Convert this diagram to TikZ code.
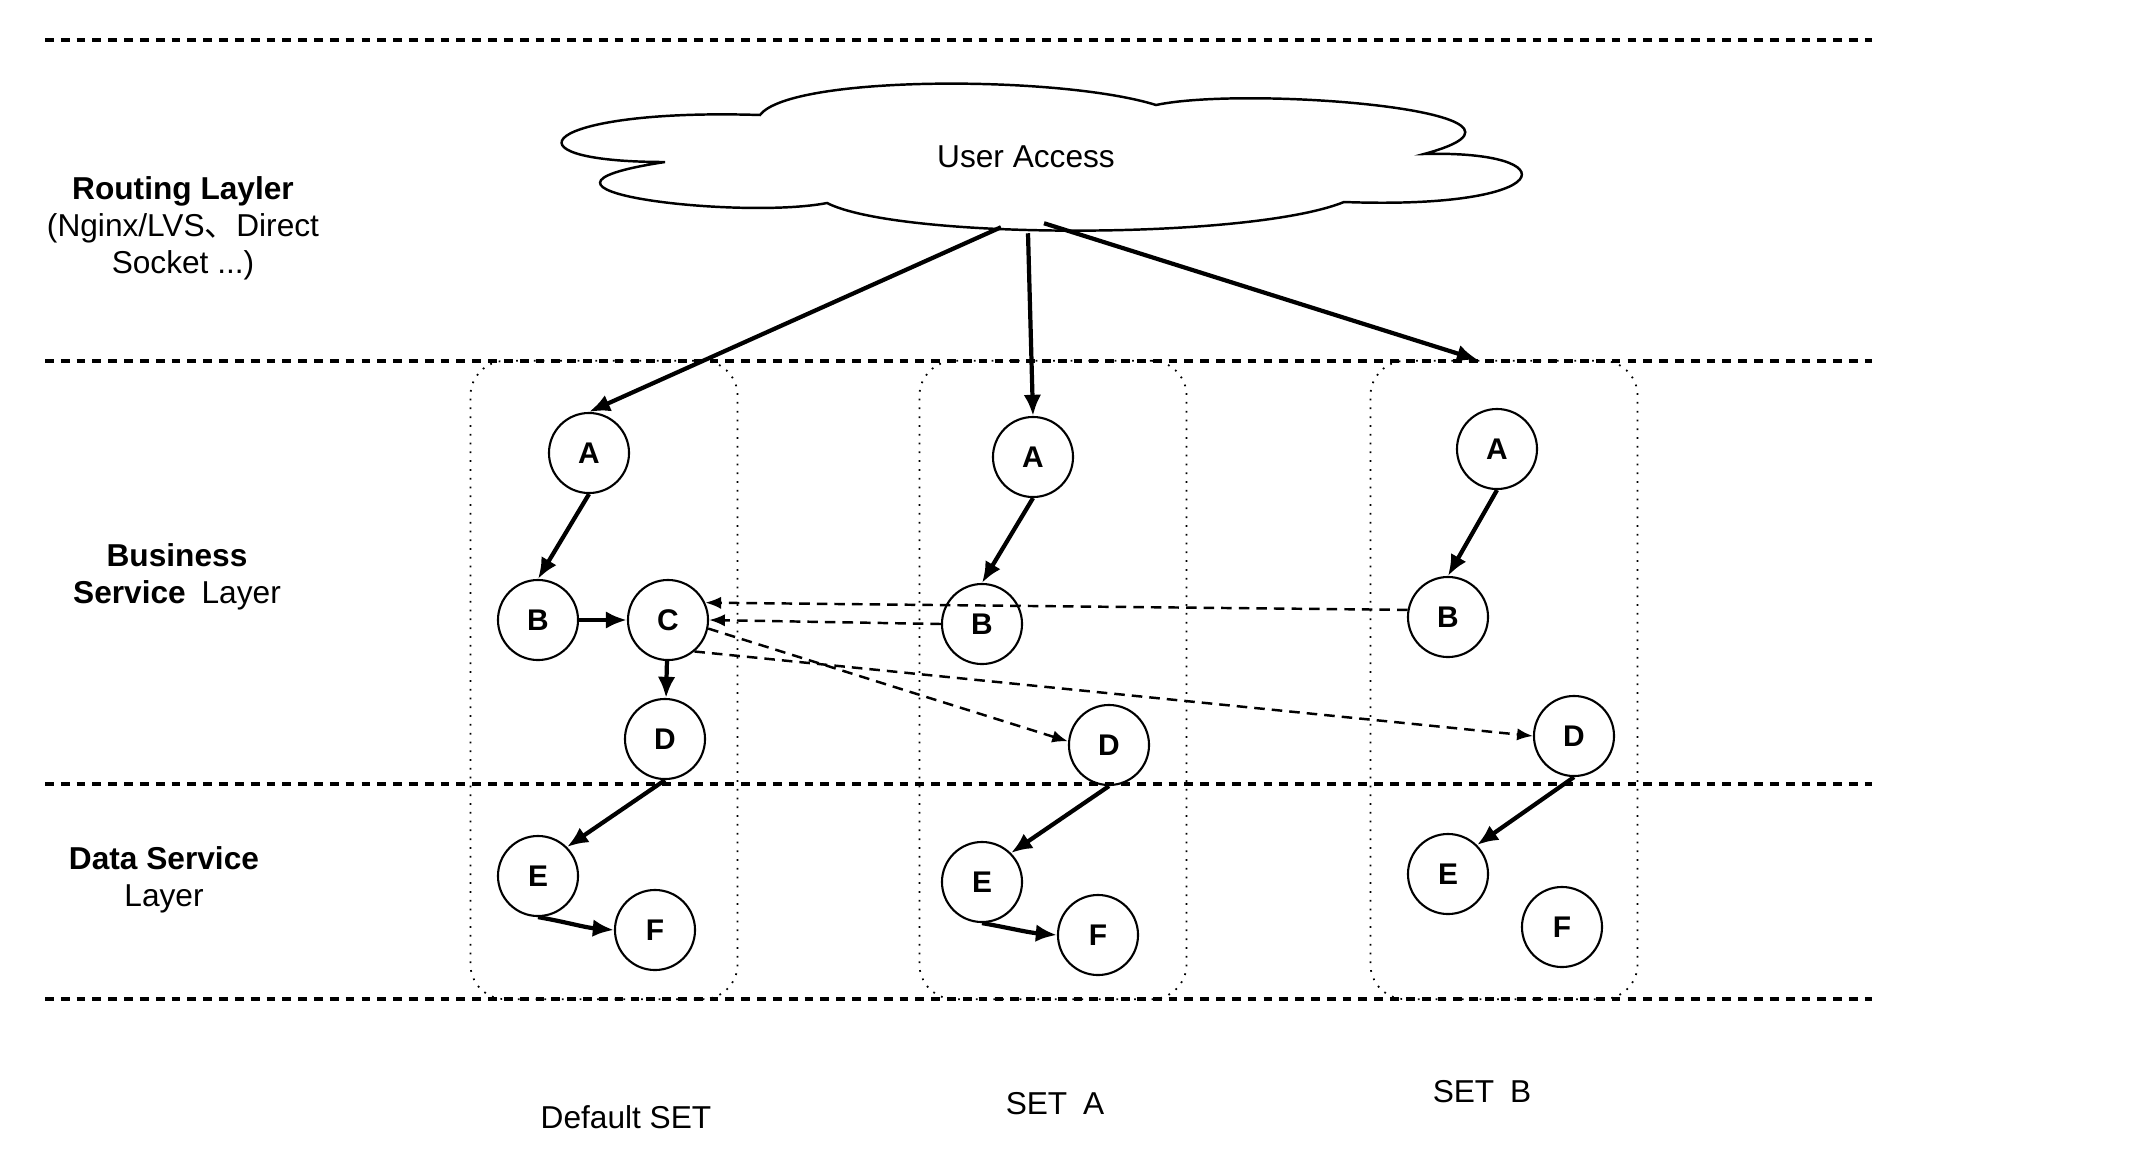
\documentclass[tikz,border=0pt]{standalone}
\usepackage{fontspec}
\setmainfont{Liberation Sans}
\newfontfamily\cjk{Noto Sans CJK SC}
\usepackage{tikz}
\usetikzlibrary{arrows.meta, positioning}

\begin{document}
\begin{tikzpicture}[x=0.01cm,y=-0.01cm,font=\fontsize{9}{10.5}\selectfont]
    \tikzstyle{state}=[shape=circle,draw,line width=0.6pt,minimum size=0.8cm,inner sep=0pt,font=\fontsize{8.5}{10}\selectfont\bfseries]
    \tikzstyle{set}=[draw,dotted,line width=0.5pt,rounded corners=0.35cm,minimum width=2.67cm,minimum height=6.38cm]
    \tikzstyle{layer}=[dash pattern=on 2.5pt off 2pt,line width=0.9pt]
    \tikzstyle{call}=[-{Latex[length=6pt,width=5pt]},line width=1.2pt]
    \tikzstyle{rpc}=[-{Latex[length=4.5pt,width=3.5pt]},dash pattern=on 3pt off 2pt,line width=0.7pt]

    \useasboundingbox (0,0) rectangle (2154,1154);

    % layers
    \draw[layer] (45,40) -- (1872,40);
    \draw[layer] (45,361) -- (1872,361);
    \draw[layer] (45,784) -- (1872,784);
    \draw[layer] (45,999) -- (1872,999);

    \node[align=center] (route) at (183,228) {\textbf{Routing Layler}\\(Nginx/LVS{\cjk 、}Direct\\Socket ...)};
    \node[align=center] (biz) at (177,577) {\textbf{Business}\\\textbf{Service}\enspace Layer};
    \node[align=center] (data) at (164,880) {\textbf{Data Service}\\Layer};

    % cloud
    \draw[line width=0.7pt] (665,162)
        .. controls (495,162) and (540,108) .. (760,115)
        .. controls (790,75) and (1060,75) .. (1156,105)
        .. controls (1250,85) and (1580,112) .. (1424,154)
        .. controls (1570,150) and (1560,210) .. (1344,202)
        .. controls (1250,240) and (900,240) .. (827,203)
        .. controls (740,220) and (480,190) .. cycle;
    \node[minimum width=9.49cm,minimum height=1.35cm,inner sep=0pt] (user) at (1026,157) {User Access};

    % sets
    \node[set] (S0) at (604,680) {};
    \node[set] (S1) at (1053,680) {};
    \node[set] (S2) at (1504,680) {};

    \node[state] (A0) at (589,453) {A};
    \node[state] (B0) at (538,620) {B};
    \node[state] (C0) at (668,620) {C};
    \node[state] (D0) at (665,739) {D};
    \node[state] (E0) at (538,876) {E};
    \node[state] (F0) at (655,930) {F};

    \node[state] (A1) at (1033,457) {A};
    \node[state] (B1) at (982,624) {B};
    \node[state] (D1) at (1109,745) {D};
    \node[state] (E1) at (982,882) {E};
    \node[state] (F1) at (1098,935) {F};

    \node[state] (A2) at (1497,449) {A};
    \node[state] (B2) at (1448,617) {B};
    \node[state] (D2) at (1574,736) {D};
    \node[state] (E2) at (1448,874) {E};
    \node[state] (F2) at (1562,927) {F};

    \node (set0) at (626,1117) {Default SET};
    \node (set1) at (1055,1104) {SET\enspace A};
    \node (set2) at (1482,1092) {SET\enspace B};

    \path[call]
    ([xshift=-0.25cm,yshift=-0.02cm]user.south) edge (A0.north)
    ([xshift=0.02cm,yshift=-0.08cm]user.south) edge (A1.north)
    ([xshift=0.18cm,yshift=0.02cm]user.south) edge ([xshift=-0.26cm]S2.north)
    (A0.south) edge (B0.north)
    (B0) edge (C0)
    (C0) edge (D0)
    (D0.south) edge (E0.north east)
    (E0.south) edge[out=-10,in=175] (F0.west)
    (A1.south) edge (B1.north)
    (D1.south) edge (E1.north east)
    (E1.south) edge[out=-10,in=175] (F1.west)
    (A2.south) edge (B2.north)
    (D2.south) edge (E2.north east)
    ;

    \path[rpc]
    (B2.170) edge (C0.25)
    (B1.west) edge (C0.east)
    (C0.-12) edge (D1.175)
    (C0.-50) edge (D2.west)
    ;

\end{tikzpicture}
\end{document}
